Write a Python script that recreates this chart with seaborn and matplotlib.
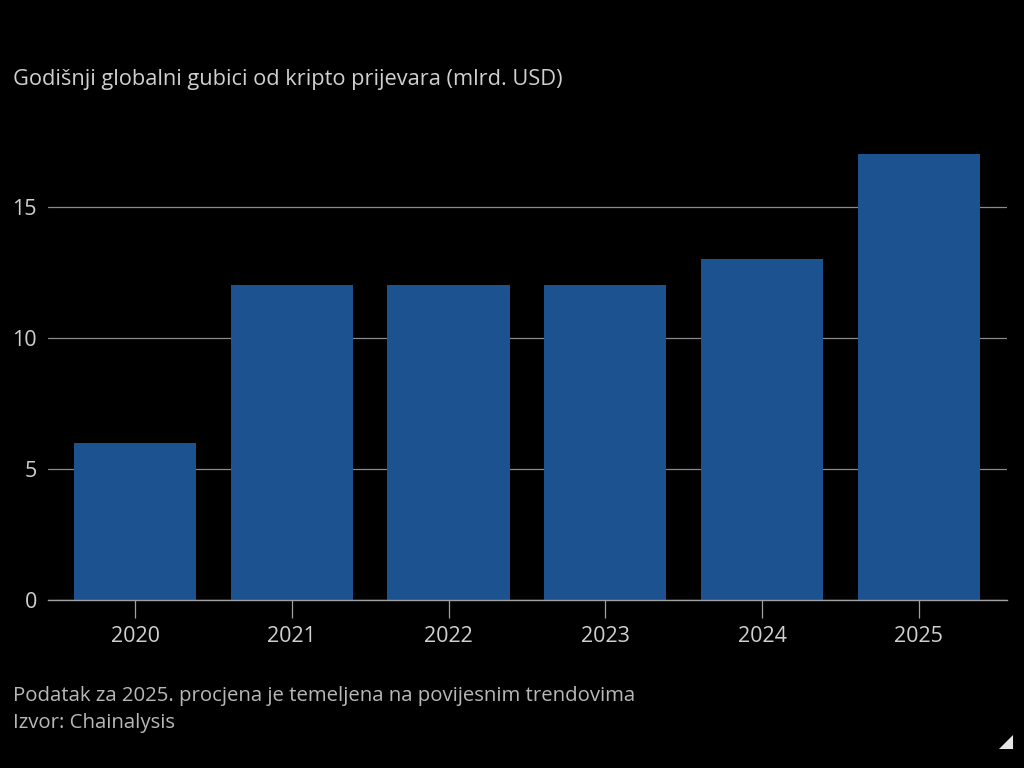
import matplotlib
matplotlib.use("Agg")
import matplotlib.pyplot as plt
from matplotlib.patches import Polygon
import seaborn as sns
import pandas as pd

# podaci
years = ["2020", "2021", "2022", "2023", "2024", "2025"]
losses = [6, 12, 12, 12, 13, 17]
y_ticks = [0, 5, 10, 15]

title = "Godišnji globalni gubici od kripto prijevara (mlrd. USD)"
note = "Podatak za 2025. procjena je temeljena na povijesnim trendovima"
source = "Izvor: Chainalysis"

df = pd.DataFrame({"year": years, "loss": losses})

sns.set_style("dark")
plt.rcParams["font.family"] = ["Open Sans", "DejaVu Sans"]

txt = "#d0d0d0"
fig = plt.figure(figsize=(10.24, 7.68), dpi=100, facecolor="black")
ax = fig.add_axes([0.047, 0.219, 0.936, 0.614])
ax.set_facecolor("black")

sns.barplot(data=df, x="year", y="loss", color="#1d5290", saturation=1,
            width=0.78, linewidth=0, edgecolor="none", ax=ax, zorder=3)

ax.set_xlim(-0.555, 5.56)
ax.set_ylim(0, 18)
ax.set_yticks(y_ticks)
ax.grid(axis="y", color="#8a8a8a", linewidth=0.9, zorder=0)
ax.grid(axis="x", visible=False)
for s in ["top", "right", "left"]:
    ax.spines[s].set_visible(False)
ax.spines["bottom"].set_color("#a0a0a0")
ax.spines["bottom"].set_linewidth(1.0)
ax.spines["bottom"].set_zorder(4)

ax.tick_params(axis="y", left=False, length=0, pad=8, labelsize=15.5, labelcolor=txt)
ax.tick_params(axis="x", bottom=True, length=13, width=0.9, color="#a0a0a0", pad=6,
               labelsize=15.5, labelcolor=txt)
ax.set_xlabel("")
ax.set_ylabel("")

fig.text(0.013, 0.896, title, color=txt, fontsize=15.7, va="center", ha="left")
fig.text(0.013, 0.094, note, color="#b8b8b8", fontsize=14.7, va="center", ha="left")
fig.text(0.013, 0.058, source, color="#b8b8b8", fontsize=14.7, va="center", ha="left")

# mali trokut u donjem desnom kutu
tri = Polygon([[0.9893, 0.0247], [0.9893, 0.043], [0.9756, 0.0247]], closed=True,
              transform=fig.transFigure, facecolor="#e6e6e6", edgecolor="none")
fig.patches.append(tri)

fig.savefig("out.png", dpi=100, facecolor="black")
